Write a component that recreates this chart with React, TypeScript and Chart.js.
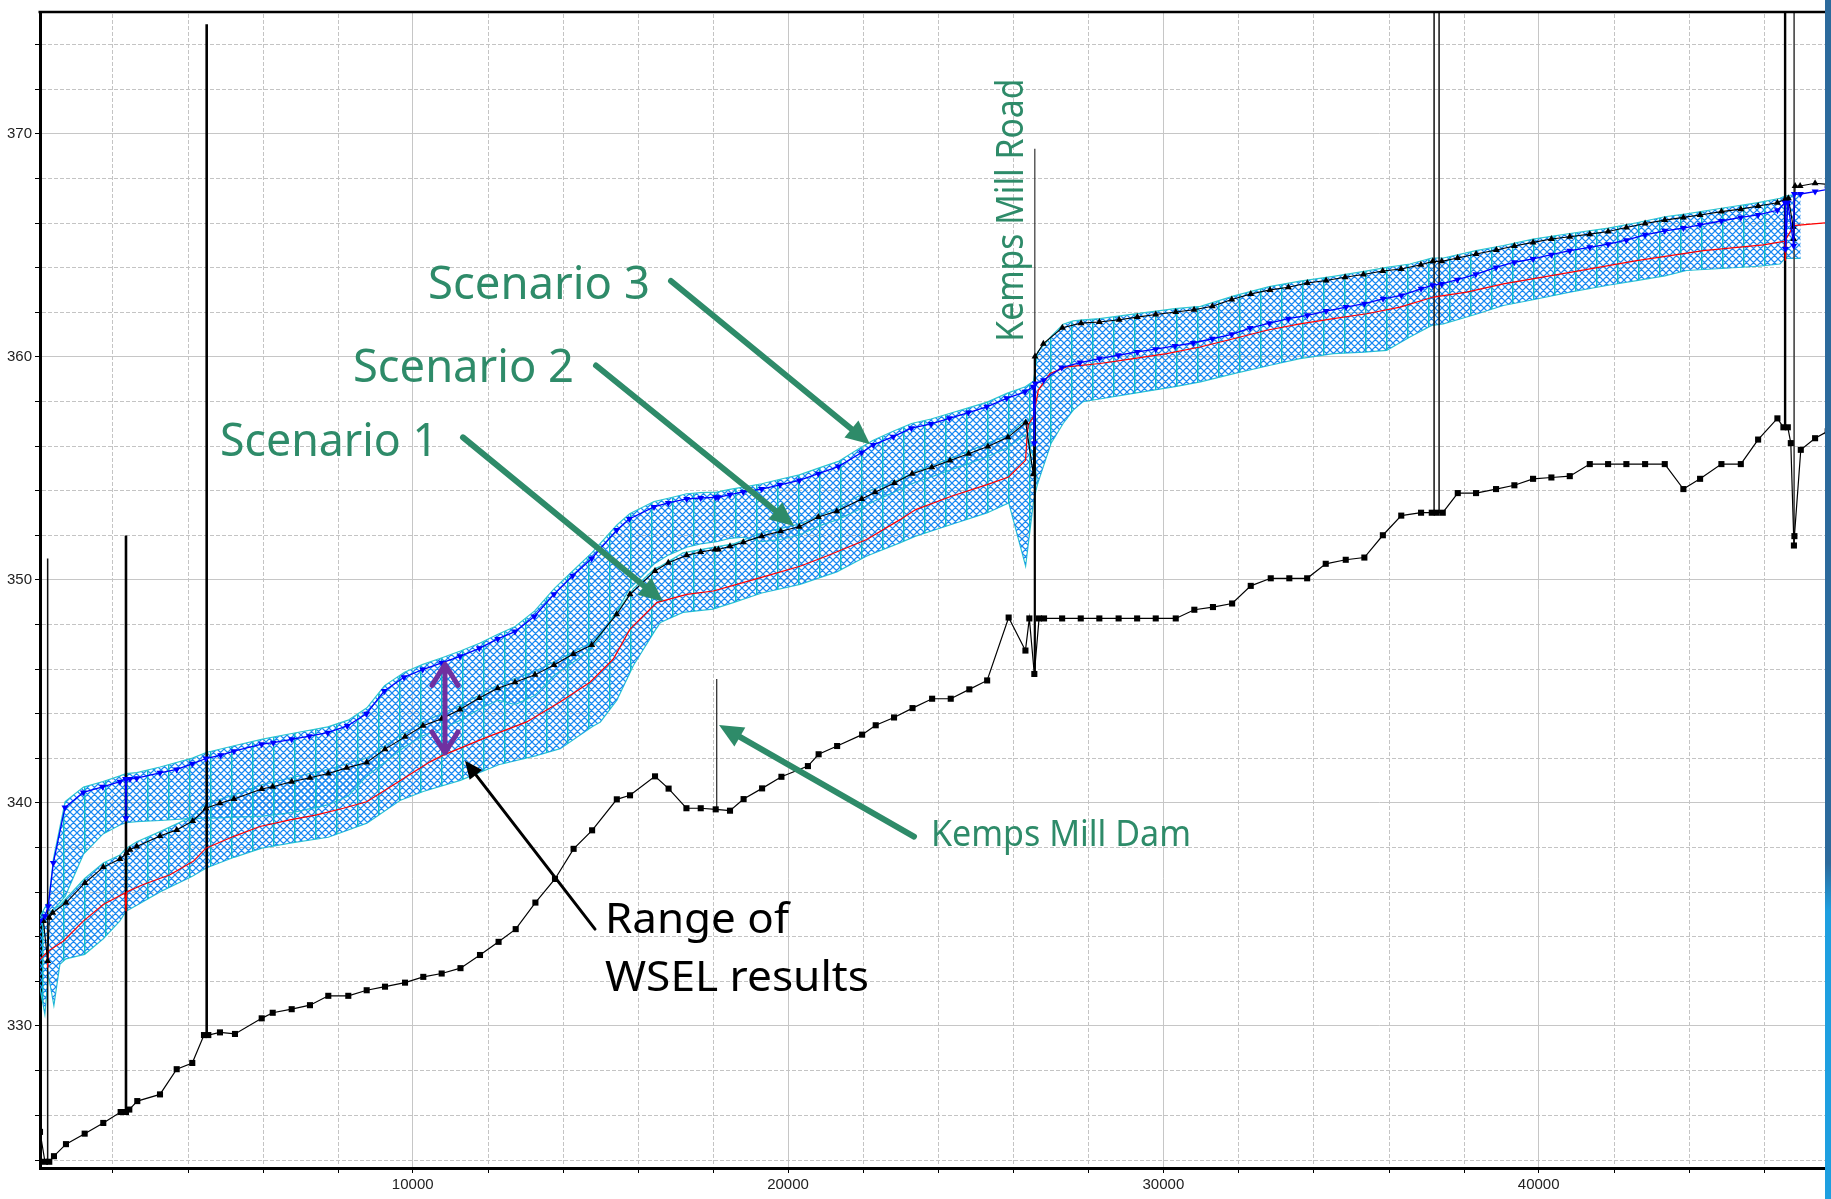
import React, { useEffect, useRef } from 'react';
import { Chart, registerables } from 'chart.js';

Chart.register(...registerables);

// ---------------- axis ranges & ticks ----------------
const X_MIN = 70;
const X_MAX = 47628;
const Y_MIN = 323.62;
const Y_MAX = 375.45;
const X_TICKS = [10000, 20000, 30000, 40000];
const Y_TICKS = [330, 340, 350, 360, 370];
const X_MINOR = [2000, 4000, 6000, 8000, 12000, 14000, 16000, 18000, 22000, 24000, 26000, 28000, 32000, 34000, 36000, 38000, 42000, 44000, 46000];
const Y_MINOR = [324, 326, 328, 332, 334, 336, 338, 342, 344, 346, 348, 352, 354, 356, 358, 362, 364, 366, 368, 372, 374];

// ---------------- channel invert (ground) ----------------
const GROUND_X = [70, 202, 317, 442, 762, 1260, 1756, 2219, 2361, 2449, 2662, 3267, 3712, 4127, 4439, 4554, 4865, 5265, 5977, 6270, 6776, 7263, 7751, 8284, 8774, 9262, 9795, 10282, 10772, 11273, 11793, 12288, 12744, 13269, 13791, 14287, 14780, 15438, 15790, 16456, 16818, 17293, 17674, 18073, 18454, 18816, 19309, 19824, 20530, 20815, 21308, 21974, 22336, 22824, 23317, 23839, 24335, 24830, 25305, 25878, 26325, 26429, 26562, 26688, 26821, 27303, 27799, 28294, 28808, 29301, 29797, 30330, 30825, 31321, 31832, 32328, 32861, 33356, 33831, 34326, 34859, 35355, 35848, 36338, 36866, 37151, 37284, 37444, 37844, 38331, 38864, 39352, 39850, 40338, 40828, 41361, 41849, 42336, 42835, 43359, 43855, 44300, 44868, 45385, 45846, 46360, 46520, 46637, 46717, 46800, 46813, 46983, 47364, 47700];
const GROUND_Y = [325.24, 323.9, 323.9, 324.15, 324.69, 325.16, 325.64, 326.13, 326.13, 326.24, 326.62, 326.92, 328.05, 328.33, 329.58, 329.58, 329.7, 329.63, 330.33, 330.58, 330.74, 330.92, 331.34, 331.34, 331.59, 331.75, 331.93, 332.19, 332.34, 332.58, 333.17, 333.76, 334.33, 335.52, 336.58, 337.93, 338.76, 340.15, 340.33, 341.18, 340.63, 339.75, 339.75, 339.7, 339.64, 340.16, 340.64, 341.16, 341.64, 342.17, 342.54, 343.05, 343.47, 343.82, 344.24, 344.66, 344.66, 345.08, 345.48, 348.3, 346.82, 348.26, 345.77, 348.26, 348.26, 348.26, 348.26, 348.26, 348.26, 348.26, 348.26, 348.26, 348.65, 348.77, 348.93, 349.72, 350.06, 350.06, 350.06, 350.71, 350.89, 350.99, 351.99, 352.87, 353.0, 353.0, 353.0, 353.0, 353.88, 353.88, 354.06, 354.23, 354.52, 354.58, 354.64, 355.18, 355.18, 355.18, 355.18, 355.18, 354.06, 354.52, 355.18, 355.18, 356.28, 357.23, 356.83, 356.83, 356.12, 351.53, 351.95, 355.82, 356.34, 356.65];

// ---------------- Scenario 3 (blue, down triangles) ----------------
const S3_X = [70, 202, 290, 424, 735, 1223, 1740, 2201, 2350, 2361, 2372, 2467, 2646, 3267, 3712, 4127, 4492, 4884, 5238, 5977, 6286, 6776, 7245, 7735, 8257, 8769, 9243, 9768, 10266, 10773, 11260, 11774, 12265, 12726, 13240, 13765, 14263, 14769, 15435, 15771, 16429, 16810, 17300, 17673, 18073, 18143, 18454, 18808, 19298, 19786, 20300, 20807, 21340, 21963, 22272, 22805, 23288, 23813, 24298, 24804, 25294, 25827, 26315, 26536, 26562, 26590, 26808, 27292, 27780, 28295, 28800, 29307, 29797, 30311, 30799, 31305, 31822, 32310, 32824, 33330, 33836, 34335, 34867, 35355, 35853, 36341, 36866, 37172, 37417, 37833, 38323, 38864, 39352, 39850, 40338, 40828, 41361, 41849, 42336, 42835, 43359, 43855, 44300, 44868, 45385, 45846, 46360, 46565, 46575, 46640, 46795, 46810, 46975, 47364, 47700];
const S3_Y = [334.7, 334.91, 335.36, 337.29, 339.78, 340.46, 340.71, 340.94, 341.06, 339.3, 341.06, 341.06, 341.1, 341.34, 341.49, 341.74, 341.98, 342.13, 342.31, 342.62, 342.69, 342.84, 342.98, 343.14, 343.44, 343.99, 345.01, 345.62, 345.97, 346.27, 346.56, 346.92, 347.34, 347.67, 348.35, 349.34, 350.17, 350.95, 352.22, 352.72, 353.26, 353.44, 353.62, 353.66, 353.69, 353.69, 353.81, 353.93, 354.06, 354.25, 354.45, 354.75, 355.07, 355.7, 356.04, 356.41, 356.79, 356.98, 357.23, 357.49, 357.75, 358.13, 358.42, 358.65, 356.12, 358.79, 358.94, 359.51, 359.73, 359.91, 360.06, 360.21, 360.33, 360.48, 360.61, 360.8, 361.0, 361.28, 361.5, 361.7, 361.85, 362.04, 362.22, 362.37, 362.59, 362.74, 363.04, 363.2, 363.26, 363.45, 363.69, 364.0, 364.23, 364.38, 364.57, 364.75, 364.9, 365.04, 365.22, 365.46, 365.64, 365.76, 365.91, 366.08, 366.24, 366.35, 366.56, 366.9, 364.82, 366.9, 364.97, 367.29, 367.29, 367.4, 367.5];

// ---------------- Scenario 2 (black, up triangles) ----------------
const S2_X = [160, 274, 317, 408, 762, 1268, 1756, 2201, 2379, 2467, 2646, 3267, 3712, 4138, 4492, 4865, 5238, 5977, 6270, 6776, 7263, 7751, 8241, 8774, 9262, 9795, 10274, 10773, 11260, 11774, 12265, 12726, 13258, 13765, 14279, 14769, 15435, 15790, 16456, 16810, 17300, 17673, 18054, 18143, 18454, 18808, 19298, 19805, 20300, 20807, 21297, 21963, 22318, 22832, 23306, 23831, 24316, 24811, 25325, 25858, 26333, 26536, 26581, 26803, 27309, 27807, 28295, 28820, 29307, 29797, 30330, 30818, 31305, 31822, 32328, 32842, 33330, 33836, 34335, 34841, 35328, 35845, 36333, 36861, 37178, 37417, 37838, 38331, 38872, 39352, 39850, 40338, 40828, 41361, 41849, 42336, 42835, 43359, 43855, 44300, 44868, 45385, 45846, 46360, 46565, 46653, 46780, 46790, 46832, 46965, 47364, 47700];
const S2_Y = [334.7, 332.9, 334.84, 335.06, 335.51, 336.4, 337.11, 337.47, 337.74, 337.89, 338.04, 338.51, 338.78, 339.18, 339.75, 339.97, 340.16, 340.61, 340.71, 340.94, 341.12, 341.31, 341.56, 341.8, 342.4, 342.95, 343.45, 343.76, 344.18, 344.69, 345.13, 345.4, 345.73, 346.17, 346.67, 347.07, 348.45, 349.34, 350.39, 350.76, 351.09, 351.24, 351.35, 351.35, 351.5, 351.68, 351.95, 352.17, 352.37, 352.81, 353.07, 353.62, 353.92, 354.33, 354.75, 355.04, 355.34, 355.64, 355.97, 356.38, 357.04, 354.72, 360.0, 360.58, 361.29, 361.5, 361.55, 361.65, 361.77, 361.89, 362.0, 362.1, 362.26, 362.56, 362.81, 362.99, 363.11, 363.3, 363.41, 363.56, 363.68, 363.84, 363.93, 364.12, 364.27, 364.27, 364.42, 364.6, 364.78, 364.96, 365.12, 365.27, 365.37, 365.49, 365.61, 365.79, 365.97, 366.12, 366.24, 366.35, 366.5, 366.61, 366.75, 366.9, 367.05, 367.1, 365.82, 365.27, 367.65, 367.65, 367.77, 367.72];

// ---------------- Scenario 1 (red line) ----------------
const S1_X = [70, 260, 274, 290, 690, 1223, 1756, 2334, 2361, 2380, 2822, 3533, 4154, 4492, 5220, 5931, 6730, 7442, 8151, 8774, 9483, 10461, 10815, 11881, 13037, 13925, 14724, 15345, 15790, 16501, 17300, 18009, 18542, 19432, 20319, 21031, 22097, 22984, 23402, 24353, 25305, 25878, 26328, 26368, 26400, 26536, 26669, 26980, 27425, 28313, 29201, 30090, 30978, 31866, 32754, 33642, 34530, 35418, 36306, 37194, 38082, 39058, 40836, 42613, 44388, 45987, 46560, 46570, 46600, 46790, 47700];
const S1_Y = [332.98, 333.3, 332.6, 333.35, 333.79, 334.69, 335.43, 335.95, 335.13, 336.0, 336.33, 336.77, 337.37, 337.96, 338.48, 338.93, 339.23, 339.45, 339.75, 340.04, 340.79, 341.83, 342.13, 342.87, 343.62, 344.51, 345.4, 346.44, 347.78, 348.97, 349.34, 349.49, 349.74, 350.17, 350.6, 351.06, 351.8, 352.69, 353.14, 353.74, 354.26, 354.6, 355.35, 356.41, 356.94, 357.3, 358.5, 359.24, 359.54, 359.69, 359.91, 360.13, 360.43, 360.8, 361.18, 361.47, 361.7, 361.92, 362.22, 362.67, 362.89, 363.26, 363.78, 364.3, 364.75, 365.01, 365.17, 364.3, 365.3, 365.87, 366.01];

// ---------------- Range of WSEL results (two hatched envelopes) ----------------
const BAND_A_X = [70, 300, 430, 740, 1230, 1750, 2200, 2361, 2650, 3270, 4130, 4500, 5240, 6000, 6780, 7740, 8280, 8780, 9250, 9780, 10270, 10780, 11270, 11780, 12270, 12730, 13250, 13770, 14270, 14770, 15440, 15780, 16430, 16810, 17300, 17670, 18100, 18450, 18810, 19300, 19790, 20300, 20810, 21340, 21960, 22270, 22800, 23290, 23810, 24300, 24800, 25290, 25830, 26320, 26540, 26650, 27010, 27330, 27600, 27860, 28300, 29200, 30310, 30990, 31880, 32820, 33640, 34530, 35350, 35950, 36570, 37150, 37460, 38330, 39060, 39850, 40830, 41850, 42610, 43360, 43940, 44870, 45850, 46430, 46560, 46980];
const BAND_A_TOP = [334.9, 335.6, 337.5, 340.05, 340.7, 340.95, 341.2, 341.3, 341.35, 341.6, 342.0, 342.25, 342.55, 342.85, 343.1, 343.4, 343.7, 344.25, 345.25, 345.85, 346.2, 346.5, 346.8, 347.15, 347.55, 347.9, 348.6, 349.6, 350.4, 351.2, 352.45, 352.95, 353.5, 353.65, 353.85, 353.9, 353.92, 354.05, 354.15, 354.3, 354.5, 354.7, 355.0, 355.3, 355.95, 356.25, 356.65, 357.0, 357.2, 357.45, 357.7, 357.95, 358.35, 358.65, 358.9, 360.2, 360.9, 361.45, 361.6, 361.65, 361.7, 361.9, 362.15, 362.25, 362.72, 363.14, 363.38, 363.6, 363.82, 364.0, 364.15, 364.42, 364.42, 364.75, 364.98, 365.27, 365.52, 365.76, 366.0, 366.27, 366.4, 366.65, 366.9, 367.1, 367.2, 367.3];
const BAND_A_BOT = [334.6, 334.9, 335.2, 335.8, 337.7, 338.6, 339.0, 339.1, 339.15, 339.2, 339.3, 339.3, 339.35, 339.4, 339.55, 339.9, 340.3, 341.2, 341.8, 342.5, 343.0, 343.3, 343.7, 344.2, 344.6, 344.4, 344.8, 345.7, 346.3, 346.9, 348.6, 349.6, 350.7, 351.1, 351.45, 351.6, 351.7, 351.85, 351.9, 351.7, 351.8, 352.0, 352.4, 352.7, 353.2, 353.5, 353.9, 354.3, 354.6, 354.9, 355.2, 355.5, 355.9, 356.5, 355.5, 354.3, 356.12, 357.0, 357.6, 357.98, 358.1, 358.35, 358.65, 358.87, 359.24, 359.6, 359.91, 360.13, 360.2, 360.28, 360.88, 361.4, 361.47, 361.9, 362.29, 362.55, 362.89, 363.2, 363.41, 363.62, 363.86, 363.95, 364.05, 364.15, 364.4, 364.4];

const BAND_B_X = [70, 200, 290, 440, 600, 760, 1260, 1756, 2200, 2361, 2650, 3267, 4130, 4500, 5240, 5977, 6776, 7751, 8780, 9660, 10280, 11270, 12290, 13270, 13930, 14780, 15000, 15440, 15880, 16450, 16600, 17200, 18000, 18540, 19300, 20320, 21300, 22100, 22980, 23400, 24350, 25300, 25880, 26330, 26540, 26650];
const BAND_B_TOP = [334.8, 334.9, 335.0, 335.25, 335.4, 335.7, 336.6, 337.3, 337.65, 337.95, 338.25, 338.7, 339.38, 339.95, 340.35, 340.8, 341.12, 341.5, 342.0, 343.0, 343.63, 344.35, 345.3, 345.9, 346.45, 347.2, 347.6, 348.55, 349.6, 350.5, 350.6, 351.2, 351.45, 351.6, 352.1, 352.5, 353.2, 353.95, 354.5, 354.85, 355.45, 356.1, 356.5, 357.15, 357.2, 357.2];
const BAND_B_BOT = [331.7, 330.5, 332.3, 330.9, 332.75, 333.0, 333.2, 333.9, 334.7, 335.13, 335.4, 336.0, 336.7, 337.07, 337.55, 337.96, 338.2, 338.45, 339.08, 340.1, 340.5, 341.0, 341.7, 342.1, 342.42, 343.4, 343.62, 344.6, 346.15, 347.7, 348.08, 348.53, 348.68, 348.97, 349.4, 349.79, 350.35, 351.06, 351.65, 351.95, 352.47, 352.99, 353.44, 350.61, 353.5, 354.33];

// ---------------- structures (bridges / dam) as vertical lines ----------------
const STRUCT_X = [274, 2361, 4511, 18100, 26575, 26575, 37213, 37346, 46565, 46805];
const STRUCT_BOTTOM = [323.9, 326.13, 329.58, 339.7, 345.77, 360.0, 353.0, 353.0, 356.83, 351.53];
const STRUCT_TOP = [350.95, 351.98, 374.9, 345.55, 360.0, 369.32, 375.45, 375.45, 375.45, 375.45];
const STRUCT_WIDTH = [1.5, 2.6, 2.6, 1.2, 2.2, 1.2, 1.5, 1.5, 2.4, 1.6];
const STRUCT_COLOR = ['#111', '#000', '#000', '#222', '#000', '#333', '#111', '#111', '#000', '#444'];

// ---------------- annotations (positioned in data units) ----------------
const GREEN = '#2e8b69';
const TEXT_FONT = '"Noto Sans", "Open Sans", sans-serif';
const LABELS = [
  { text: 'Scenario 3', x: 10407, y: 362.59, size: 45, width: 222, color: GREEN, rotate: false },
  { text: 'Scenario 2', x: 8409, y: 358.88, size: 45, width: 221, color: GREEN, rotate: false },
  { text: 'Scenario 1', x: 4865, y: 355.54, size: 45, width: 218, color: GREEN, rotate: false },
  { text: 'Kemps Mill Road', x: 26260, y: 360.67, size: 38, width: 263, color: GREEN, rotate: true },
  { text: 'Kemps Mill Dam', x: 23809, y: 338.04, size: 36, width: 260, color: GREEN, rotate: false },
  { text: 'Range of', x: 15123, y: 334.15, size: 42, width: 184, color: '#000', rotate: false },
  { text: 'WSEL results', x: 15123, y: 331.56, size: 42, width: 264, color: '#000', rotate: false },
];
const ARROWS = [
  { x1: 16882, y1: 363.39, x2: 22184, y2: 356.07, color: GREEN, width: 6, head: 24, half: 11 },
  { x1: 14884, y1: 359.6, x2: 20160, y2: 352.41, color: GREEN, width: 6, head: 24, half: 11 },
  { x1: 11340, y1: 356.38, x2: 16669, y2: 349.02, color: GREEN, width: 6, head: 24, half: 11 },
  { x1: 23356, y1: 338.48, x2: 18161, y2: 343.48, color: GREEN, width: 6, head: 24, half: 11 },
  { x1: 14857, y1: 334.33, x2: 11393, y2: 341.88, color: '#000', width: 3, head: 18, half: 8 },
];
const DOUBLE_ARROW = { x: 10860, y1: 346.29, y2: 342.14, color: '#7030a0', width: 5 };

const HATCH_COLOR = '#1a88f2';
const VERT_COLOR = '#0cbcc6';
const OUTLINE_COLOR = '#2cc6d0';
const MAJOR_GRID = '#c6c6c6';
const MINOR_GRID = '#c4c4c4';
const TICK_FONT = '"Liberation Sans Narrow", "Liberation Sans", Arial, sans-serif';

const pts = (xs: number[], ys: number[]) => xs.map((x, i) => ({ x, y: ys[i] }));

function makeHatch(): CanvasPattern | string {
  const P = 7;
  const c = document.createElement('canvas');
  c.width = P * 3;
  c.height = P;
  const g = c.getContext('2d');
  if (!g) return HATCH_COLOR;
  g.strokeStyle = HATCH_COLOR;
  g.lineWidth = 1.25;
  g.beginPath();
  for (let k = -2; k <= 4; k++) {
    g.moveTo(k * P, 0);
    g.lineTo(k * P + P, P);
    g.moveTo(k * P + P, 0);
    g.lineTo(k * P, P);
  }
  g.stroke();
  g.strokeStyle = VERT_COLOR;
  g.lineWidth = 1.4;
  g.beginPath();
  g.moveTo(0.7, 0);
  g.lineTo(0.7, P);
  g.stroke();
  return g.createPattern(c, 'repeat') || HATCH_COLOR;
}

function drawArrow(ctx: CanvasRenderingContext2D, x1: number, y1: number, x2: number, y2: number, color: string, width: number, head: number, half: number) {
  const dx = x2 - x1;
  const dy = y2 - y1;
  const len = Math.hypot(dx, dy);
  const ux = dx / len;
  const uy = dy / len;
  const bx = x2 - ux * head;
  const by = y2 - uy * head;
  ctx.save();
  ctx.strokeStyle = color;
  ctx.fillStyle = color;
  ctx.lineWidth = width;
  ctx.lineCap = 'round';
  ctx.beginPath();
  ctx.moveTo(x1, y1);
  ctx.lineTo(bx + ux * 2, by + uy * 2);
  ctx.stroke();
  ctx.beginPath();
  ctx.moveTo(x2, y2);
  ctx.lineTo(bx - uy * half, by + ux * half);
  ctx.lineTo(bx + uy * half, by - ux * half);
  ctx.closePath();
  ctx.fill();
  ctx.restore();
}

const minorGridPlugin = {
  id: 'minorGrid',
  beforeDatasetsDraw(chart: any) {
    const { ctx, chartArea: a, scales } = chart;
    const xs = scales.x;
    const ys = scales.y;
    ctx.save();
    ctx.strokeStyle = MINOR_GRID;
    ctx.lineWidth = 1;
    ctx.setLineDash([4, 2]);
    ctx.beginPath();
    for (const v of Y_MINOR) {
      const p = Math.round(ys.getPixelForValue(v)) + 0.5;
      ctx.moveTo(a.left + 2, p);
      ctx.lineTo(a.right, p);
    }
    for (const v of X_MINOR) {
      const p = Math.round(xs.getPixelForValue(v)) + 0.5;
      ctx.moveTo(p, a.top + 2);
      ctx.lineTo(p, a.bottom - 2);
    }
    ctx.stroke();
    ctx.restore();
  },
};

const overlayPlugin = {
  id: 'overlay',
  afterDraw(chart: any) {
    const { ctx, chartArea: a, scales } = chart;
    const xs = scales.x;
    const ys = scales.y;
    ctx.save();
    ctx.strokeStyle = '#000';
    ctx.lineWidth = 2.5;
    ctx.beginPath();
    ctx.moveTo(a.left - 1.5, a.top);
    ctx.lineTo(a.right + 6, a.top);
    ctx.stroke();
    ctx.lineWidth = 1;
    ctx.beginPath();
    for (const v of X_MINOR) {
      const p = Math.round(xs.getPixelForValue(v)) + 0.5;
      ctx.moveTo(p, a.bottom);
      ctx.lineTo(p, a.bottom + 5);
    }
    for (const v of Y_MINOR) {
      const p = Math.round(ys.getPixelForValue(v)) + 0.5;
      ctx.moveTo(a.left - 5, p);
      ctx.lineTo(a.left, p);
    }
    ctx.stroke();
    ctx.restore();

    for (const ar of ARROWS) {
      drawArrow(ctx, xs.getPixelForValue(ar.x1), ys.getPixelForValue(ar.y1), xs.getPixelForValue(ar.x2), ys.getPixelForValue(ar.y2), ar.color, ar.width, ar.head, ar.half);
    }
    {
      const px = xs.getPixelForValue(DOUBLE_ARROW.x);
      const t = ys.getPixelForValue(DOUBLE_ARROW.y1);
      const b = ys.getPixelForValue(DOUBLE_ARROW.y2);
      ctx.save();
      ctx.strokeStyle = DOUBLE_ARROW.color;
      ctx.lineWidth = DOUBLE_ARROW.width;
      ctx.lineCap = 'round';
      ctx.lineJoin = 'round';
      ctx.beginPath();
      ctx.moveTo(px, t + 2);
      ctx.lineTo(px, b - 2);
      ctx.moveTo(px - 13, t + 23);
      ctx.lineTo(px, t + 2);
      ctx.lineTo(px + 13, t + 23);
      ctx.moveTo(px - 13, b - 23);
      ctx.lineTo(px, b - 2);
      ctx.lineTo(px + 13, b - 23);
      ctx.stroke();
      ctx.restore();
    }
    for (const l of LABELS) {
      ctx.save();
      ctx.font = `${l.size}px ${TEXT_FONT}`;
      const m = ctx.measureText(l.text).width;
      ctx.translate(xs.getPixelForValue(l.x), ys.getPixelForValue(l.y));
      if (l.rotate) ctx.rotate(-Math.PI / 2);
      ctx.scale(l.width / m, 1);
      ctx.fillStyle = l.color;
      ctx.textAlign = 'left';
      ctx.textBaseline = 'alphabetic';
      ctx.fillText(l.text, 0, 0);
      ctx.restore();
    }
  },
};

export default function App() {
  const ref = useRef<HTMLCanvasElement | null>(null);

  useEffect(() => {
    const canvas = ref.current;
    if (!canvas) return;
    const hatch = makeHatch();

    const band = (xs: number[], top: number[], bot: number[]) => [
      {
        label: 'band-top',
        data: pts(xs, top),
        borderColor: OUTLINE_COLOR,
        borderWidth: 1.2,
        pointRadius: 0,
        backgroundColor: hatch,
        fill: '+1',
        order: 20,
      },
      {
        label: 'band-bottom',
        data: pts(xs, bot),
        borderColor: OUTLINE_COLOR,
        borderWidth: 1.2,
        pointRadius: 0,
        fill: false,
        order: 20,
      },
    ];

    const structures = STRUCT_X.map((x, i) => ({
      label: 'structure',
      data: [
        { x, y: STRUCT_BOTTOM[i] },
        { x, y: STRUCT_TOP[i] },
      ],
      borderColor: STRUCT_COLOR[i],
      borderWidth: STRUCT_WIDTH[i],
      pointRadius: 0,
      fill: false,
      order: 6,
    }));

    const datasets: any[] = [
      {
        label: 'Scenario 3',
        data: pts(S3_X, S3_Y),
        borderColor: '#0000ff',
        borderWidth: 1.3,
        pointStyle: 'triangle',
        pointRotation: 180,
        pointRadius: 4,
        pointBackgroundColor: '#0000ff',
        pointBorderColor: '#0000ff',
        pointBorderWidth: 0,
        fill: false,
        order: 1,
      },
      {
        label: 'Scenario 2',
        data: pts(S2_X, S2_Y),
        borderColor: '#000000',
        borderWidth: 1.1,
        pointStyle: 'triangle',
        pointRadius: 4,
        pointBackgroundColor: '#000000',
        pointBorderColor: '#000000',
        pointBorderWidth: 0,
        fill: false,
        order: 2,
      },
      {
        label: 'Scenario 1',
        data: pts(S1_X, S1_Y),
        borderColor: '#ff0000',
        borderWidth: 1.2,
        pointRadius: 0,
        fill: false,
        order: 3,
      },
      {
        label: 'Ground',
        data: pts(GROUND_X, GROUND_Y),
        borderColor: '#000000',
        borderWidth: 1.2,
        pointStyle: 'rect',
        pointRadius: 4.3,
        pointBackgroundColor: '#000000',
        pointBorderColor: '#000000',
        pointBorderWidth: 0,
        fill: false,
        order: 4,
      },
      ...structures,
      ...band(BAND_A_X, BAND_A_TOP, BAND_A_BOT),
      ...band(BAND_B_X, BAND_B_TOP, BAND_B_BOT),
    ];

    const chart = new Chart(canvas, {
      type: 'line',
      data: { datasets },
      options: {
        responsive: false,
        animation: false,
        devicePixelRatio: 1,
        layout: { padding: { top: 7, right: 6, left: 0, bottom: 0 } },
        elements: { line: { tension: 0 } },
        plugins: { legend: { display: false }, tooltip: { enabled: false } },
        scales: {
          x: {
            type: 'linear',
            min: X_MIN,
            max: X_MAX,
            afterFit: (s: any) => {
              s.height = 31;
            },
            afterBuildTicks: (s: any) => {
              s.ticks = X_TICKS.map((value) => ({ value }));
            },
            ticks: {
              autoSkip: false,
              maxRotation: 0,
              color: '#222',
              padding: 3,
              font: { family: TICK_FONT, size: 15 },
              callback: (v: any) => String(v),
            },
            grid: { color: MAJOR_GRID, lineWidth: 1, tickLength: 5, tickColor: '#000' },
            border: { color: '#000', width: 3 },
          },
          y: {
            type: 'linear',
            min: Y_MIN,
            max: Y_MAX,
            afterFit: (s: any) => {
              s.width = 40;
            },
            afterBuildTicks: (s: any) => {
              s.ticks = Y_TICKS.map((value) => ({ value }));
            },
            ticks: {
              autoSkip: false,
              color: '#222',
              padding: 3,
              font: { family: TICK_FONT, size: 15 },
              callback: (v: any) => String(v),
            },
            grid: { color: MAJOR_GRID, lineWidth: 1, tickLength: 5, tickColor: '#000' },
            border: { color: '#000', width: 3 },
          },
        },
      },
      plugins: [minorGridPlugin, overlayPlugin],
    } as any);

    return () => chart.destroy();
  }, []);

  return (
    <div style={{ position: 'absolute', left: 0, top: 0, width: 1831, height: 1199, background: '#fff' }}>
      <canvas ref={ref} width={1831} height={1199} style={{ display: 'block', width: 1831, height: 1199 }} />
      <div
        style={{
          position: 'absolute',
          left: 1825,
          top: 0,
          width: 6,
          height: 1199,
          background: 'linear-gradient(to bottom, #2c6a9c 0%, #2c6a9c 72%, #1e9fe0 76%, #1e9fe0 100%)',
        }}
      />
    </div>
  );
}
